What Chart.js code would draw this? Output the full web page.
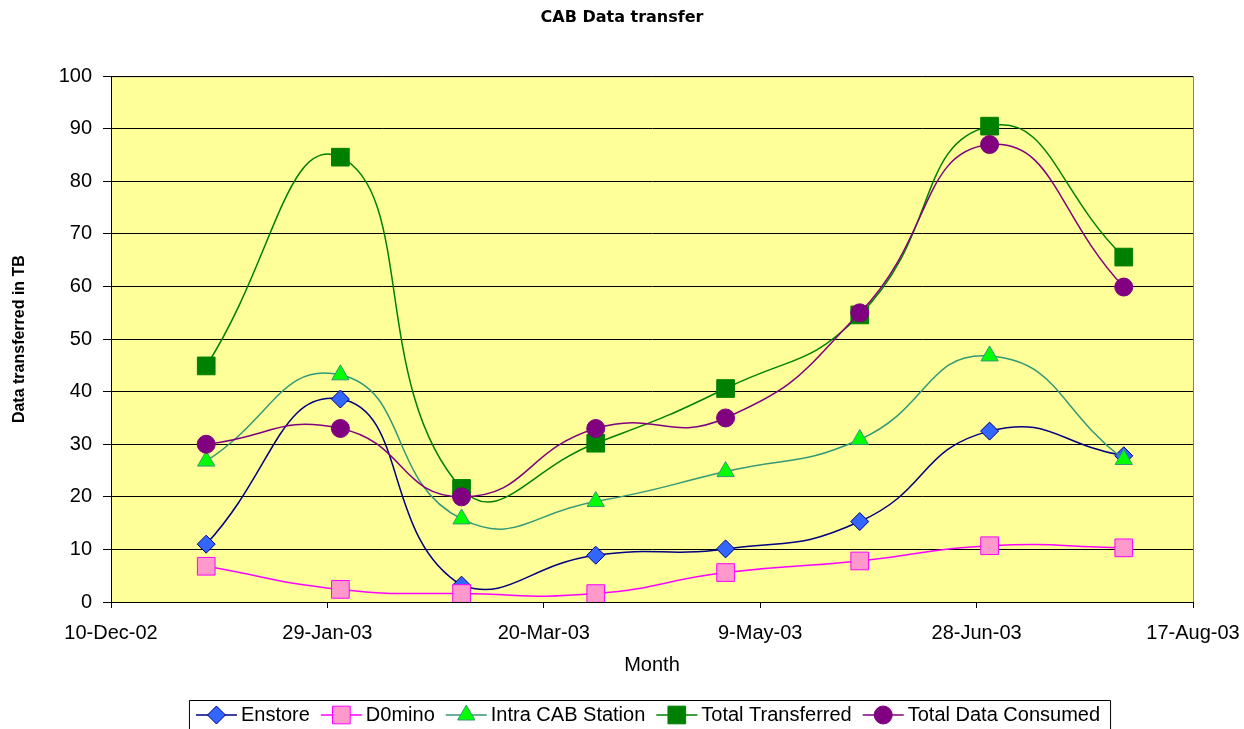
<!DOCTYPE html>
<html>
<head>
<meta charset="utf-8">
<title>CAB Data transfer</title>
<script src="https://cdn.jsdelivr.net/npm/chart.js@4.4.1/dist/chart.umd.min.js"></script>
<style>
  html, body { margin: 0; padding: 0; background: #fff; }
  canvas { display: block; }
</style>
</head>
<body>
<canvas id="cab-chart" width="1244" height="729"></canvas>
<script>
// x axis is a day axis starting 10-Dec-02, ticks every 50 days
const startDate = '2002-12-10';
const tickLabels = ['10-Dec-02', '29-Jan-03', '20-Mar-03', '9-May-03', '28-Jun-03', '17-Aug-03'];
const months = ['2003-01-01', '2003-02-01', '2003-03-01', '2003-04-01',
                '2003-05-01', '2003-06-01', '2003-07-01', '2003-08-01'];

// TB per month
const enstore          = [11.0, 38.6, 3.2, 8.9, 10.1, 15.3, 32.5, 27.8];
const d0mino           = [6.8, 2.4, 1.6, 1.6, 5.6, 7.8, 10.7, 10.3];
const intraCabStation  = [26.8, 43.2, 15.8, 19.1, 24.8, 30.9, 46.8, 27.1];
const totalTransferred = [44.9, 84.6, 21.6, 30.2, 40.6, 54.6, 90.5, 65.6];
const totalConsumed    = [30.0, 33.0, 20.0, 33.0, 35.0, 55.0, 87.0, 59.9];

const FONT = '"Liberation Sans", Arial, sans-serif';

const series = [
  {label: 'Enstore',            values: enstore,          line: '#000080', fill: '#3366FF', edge: '#000080', style: 'rectRot',  radius: 9},
  {label: 'D0mino',             values: d0mino,           line: '#FF00FF', fill: '#FF99CC', edge: '#FF00FF', style: 'rect',     radius: 12.5},
  {label: 'Intra CAB Station',  values: intraCabStation,  line: '#339977', fill: '#00FF00', edge: '#339977', style: 'triangle', radius: 10},
  {label: 'Total Transferred',  values: totalTransferred, line: '#008000', fill: '#008000', edge: '#008000', style: 'rect',     radius: 12.5},
  {label: 'Total Data Consumed',values: totalConsumed,    line: '#800080', fill: '#800080', edge: '#800080', style: 'circle',   radius: 9}
];

const dayOffset = d => (Date.parse(d) - Date.parse(startDate)) / 86400000;

// yellow plot area with grey frame, like Excel
const plotArea = {
  id: 'plotArea',
  beforeDraw(chart) {
    const {ctx, chartArea: a} = chart;
    ctx.save();
    ctx.fillStyle = '#FFFF99';
    ctx.fillRect(a.left, a.top, a.right - a.left, a.bottom - a.top);
    ctx.strokeStyle = '#808080';
    ctx.lineWidth = 1;
    ctx.strokeRect(a.left + 0.5, a.top + 0.5, a.right - a.left, a.bottom - a.top);
    ctx.restore();
  }
};

// Excel style legend: line with marker, framed box at the bottom
const boxLegend = {
  id: 'boxLegend',
  afterDraw(chart) {
    const {ctx, chartArea: a} = chart;
    const lineLen = 41, textGap = 4, itemGap = 11;
    ctx.save();
    ctx.font = '20px ' + FONT;
    const sets = chart.data.datasets;
    const widths = sets.map(ds => ctx.measureText(ds.label).width);
    const total = widths.reduce((s, w) => s + w + lineLen + textGap, 0) + itemGap * (sets.length - 1);
    let x = (a.left + a.right) / 2 - 4 - total / 2;
    const y = chart.height - 14;

    ctx.strokeStyle = '#000';
    ctx.lineWidth = 1;
    ctx.beginPath();
    ctx.moveTo(x - 6.5, chart.height + 2);
    ctx.lineTo(x - 6.5, chart.height - 28.5);
    ctx.lineTo(x + total + 10.5, chart.height - 28.5);
    ctx.lineTo(x + total + 10.5, chart.height + 2);
    ctx.stroke();

    sets.forEach((ds, i) => {
      ctx.strokeStyle = ds.borderColor;
      ctx.lineWidth = 1.5;
      ctx.beginPath();
      ctx.moveTo(x, y);
      ctx.lineTo(x + lineLen, y);
      ctx.stroke();
      ctx.fillStyle = ds.pointBackgroundColor;
      ctx.strokeStyle = ds.pointBorderColor;
      ctx.lineWidth = ds.pointBorderWidth;
      Chart.helpers.drawPoint(ctx, {pointStyle: ds.pointStyle, rotation: 0, radius: ds.pointRadius, borderWidth: ds.pointBorderWidth}, x + lineLen / 2, y);
      ctx.fillStyle = '#000';
      ctx.textAlign = 'left';
      ctx.textBaseline = 'middle';
      ctx.fillText(ds.label, x + lineLen + textGap, y);
      x += lineLen + textGap + widths[i] + itemGap;
    });
    ctx.restore();
  }
};

new Chart(document.getElementById('cab-chart'), {
  type: 'line',
  data: {
    datasets: series.map((s, i) => ({
      label: s.label,
      data: s.values.map((v, j) => ({x: dayOffset(months[j]), y: v})),
      borderColor: s.line,
      borderWidth: 1.5,
      tension: 0.5,
      pointStyle: s.style,
      pointRadius: s.radius,
      pointHoverRadius: s.radius,
      pointBackgroundColor: s.fill,
      pointBorderColor: s.edge,
      pointBorderWidth: 1,
      order: series.length - i
    }))
  },
  options: {
    responsive: false,
    animation: false,
    devicePixelRatio: 1,
    layout: {padding: {top: 0, left: 0, right: 0, bottom: 28}},
    plugins: {
      legend: {display: false},
      tooltip: {enabled: false},
      title: {
        display: true,
        text: 'CAB Data transfer',
        color: '#000',
        font: {family: '"DejaVu Sans", sans-serif', size: 16, weight: 'bold'},
        padding: {top: 8, bottom: 49}
      }
    },
    scales: {
      x: {
        type: 'linear',
        min: 0,
        max: 250,
        afterFit(scale) {
          scale.height = 99;
          // keep the plot's right edge where the original has it
          scale.paddingLeft = 0;
          scale.paddingRight = 51;
        },
        ticks: {
          stepSize: 50,
          autoSkip: false,
          maxRotation: 0,
          padding: 13,
          color: '#000',
          font: {family: FONT, size: 20},
          callback: (value, index) => tickLabels[index]
        },
        grid: {drawOnChartArea: false, tickLength: 6, color: '#000'},
        border: {color: '#000'},
        title: {
          display: true,
          text: 'Month',
          color: '#000',
          font: {family: FONT, size: 20},
          padding: {top: 8, bottom: 24}
        }
      },
      y: {
        min: 0,
        max: 100,
        afterFit(scale) { scale.width = 111; },
        ticks: {stepSize: 10, padding: 11, color: '#000', font: {family: FONT, size: 20}},
        grid: {color: '#000', tickLength: 8},
        border: {color: '#000'},
        title: {
          display: true,
          text: 'Data transferred in TB',
          color: '#000',
          font: {family: FONT, size: 16, weight: 'bold'},
          padding: {top: 10, bottom: 0}
        }
      }
    }
  },
  plugins: [plotArea, boxLegend]
});
</script>
</body>
</html>
